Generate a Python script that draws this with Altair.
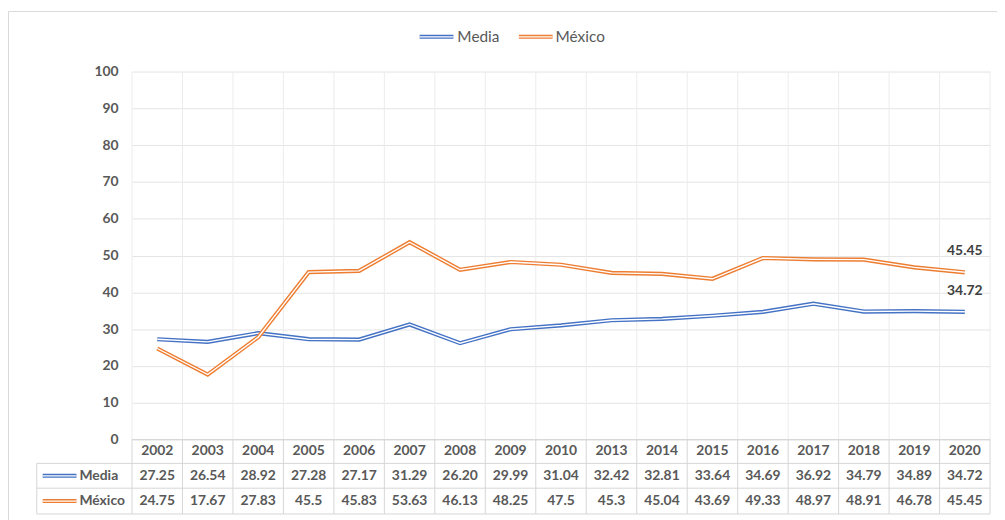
import altair as alt
import pandas as pd

years = ["2002", "2003", "2004", "2005", "2006", "2007", "2008", "2009", "2010",
         "2013", "2014", "2015", "2016", "2017", "2018", "2019", "2020"]
media = [27.25, 26.54, 28.92, 27.28, 27.17, 31.29, 26.20, 29.99, 31.04,
         32.42, 32.81, 33.64, 34.69, 36.92, 34.79, 34.89, 34.72]
mexico = [24.75, 17.67, 27.83, 45.5, 45.83, 53.63, 46.13, 48.25, 47.5,
          45.3, 45.04, 43.69, 49.33, 48.97, 48.91, 46.78, 45.45]
series_names = ["Media", "México"]
series_colors = ["#4472C4", "#ED7D31"]
y_ticks = list(range(0, 101, 10))

rows = []
for name, vals in zip(series_names, [media, mexico]):
    for yr, v in zip(years, vals):
        lab = f"{v:.2f}" if name == "Media" else f"{v:g}"
        rows.append({"year": yr, "series": name, "value": v, "label": lab})
df = pd.DataFrame(rows)
years_df = pd.DataFrame({"year": years})

FONT = "Lato"
GRAY = "#595959"
W, H = 865, 371

xscale = alt.Scale(type="band", domain=years, paddingInner=0, paddingOuter=0)
yaxis = alt.Axis(values=y_ticks, title=None, domain=False, ticks=False,
                 labelPadding=14, labelFontWeight="bold", labelFontSize=14,
                 labelColor=GRAY, labelFont=FONT, grid=True,
                 gridColor="#e4e4e4", gridWidth=1)
yscale = alt.Scale(domain=[0, 100])

def xc():
    return alt.X("year:N", scale=xscale, axis=None, bandPosition=0.5)

def xs():
    return alt.X("year:N", scale=xscale, axis=None, bandPosition=0)

one = pd.DataFrame({"k": [0]})

border = alt.Chart(one).mark_rect(fill="white", fillOpacity=0, stroke="#d9d9d9",
                                  strokeWidth=1).encode(
    x=alt.value(-124.5), x2=alt.value(900), y=alt.value(-60.5), y2=alt.value(480))

# vertical grid in plot
vgrid = alt.Chart(years_df).mark_rule(color="#ececec", strokeWidth=1).encode(
    x=xs(), y=alt.value(0), y2=alt.value(H))
vgrid_end = alt.Chart(one).mark_rule(color="#ececec", strokeWidth=1).encode(
    x=alt.value(W), y=alt.value(0), y2=alt.value(H))

# table lines
TC = "#d6d6d6"
tv = alt.Chart(years_df).mark_rule(color=TC, strokeWidth=1).encode(
    x=xs(), y=alt.value(H), y2=alt.value(446))
tv_end = alt.Chart(one).mark_rule(color=TC, strokeWidth=1).encode(
    x=alt.value(W), y=alt.value(H), y2=alt.value(446))
tv_left = alt.Chart(one).mark_rule(color=TC, strokeWidth=1).encode(
    x=alt.value(-96), y=alt.value(395), y2=alt.value(446))
th0 = alt.Chart(one).mark_rule(color=TC, strokeWidth=1).encode(
    x=alt.value(0), x2=alt.value(W), y=alt.value(H))
th_rows = [alt.Chart(one).mark_rule(color=TC, strokeWidth=1).encode(
    x=alt.value(-96), x2=alt.value(W), y=alt.value(yy)) for yy in (395, 420, 446)]

# table texts
tyears = alt.Chart(years_df).mark_text(font=FONT, fontSize=14, fontWeight="bold",
                                       color=GRAY, baseline="middle").encode(
    x=xc(), y=alt.value(383), text="year:N")
tmedia = alt.Chart(df).transform_filter(alt.datum.series == "Media").mark_text(
    font=FONT, fontSize=14, fontWeight="bold", color=GRAY, baseline="middle").encode(
    x=xc(), y=alt.value(408), text="label:N")
tmex = alt.Chart(df).transform_filter(alt.datum.series == "México").mark_text(
    font=FONT, fontSize=14, fontWeight="bold", color=GRAY, baseline="middle").encode(
    x=xc(), y=alt.value(433), text="label:N")

def double_key(x1, x2, yy, color):
    a = alt.Chart(one).mark_rule(color=color, strokeWidth=4).encode(
        x=alt.value(x1), x2=alt.value(x2), y=alt.value(yy))
    b = alt.Chart(one).mark_rule(color="white", strokeWidth=1.3).encode(
        x=alt.value(x1), x2=alt.value(x2), y=alt.value(yy))
    return [a, b]

def label(txt, xx, yy, size, weight):
    d = pd.DataFrame({"t": [txt]})
    return alt.Chart(d).mark_text(font=FONT, fontSize=size, fontWeight=weight,
                                  color=GRAY, align="left", baseline="middle").encode(
        x=alt.value(xx), y=alt.value(yy), text="t:N")

table_keys = (double_key(-90, -56, 407.5, series_colors[0]) +
              double_key(-90, -56, 433, series_colors[1]) +
              [label(series_names[0], -53, 408, 14, "bold"),
               label(series_names[1], -53, 433, 14, "bold")])

legend = (double_key(290, 324, -35, series_colors[0]) +
          double_key(390, 424, -35, series_colors[1]) +
          [label(series_names[0], 328, -35, 15.5, "normal"),
           label(series_names[1], 427, -35, 15.5, "normal")])

# series lines
series_layers = []
for name, col in zip(series_names, series_colors):
    base = alt.Chart(df).transform_filter(alt.datum.series == name)
    thick = base.mark_line(color=col, strokeWidth=4.2).encode(
        x=xc(), y=alt.Y("value:Q", scale=yscale, axis=yaxis))
    thin = base.mark_line(color="white", strokeWidth=1.4).encode(
        x=xc(), y=alt.Y("value:Q", scale=yscale, axis=yaxis))
    series_layers += [thick, thin]

end_labels = alt.Chart(df).transform_filter(alt.datum.year == years[-1]).mark_text(
    font=FONT, fontSize=14, fontWeight="bold", color="#404040", dy=-21,
    baseline="middle").encode(
    x=xc(), y=alt.Y("value:Q", scale=yscale, axis=yaxis), text="label:N")

chart = alt.layer(
    border, vgrid, vgrid_end, tv, tv_end, tv_left, th0, *th_rows,
    tyears, tmedia, tmex, *table_keys, *legend, *series_layers, end_labels
).properties(
    width=W, height=H,
    padding={"left": 125, "top": 62, "right": 7, "bottom": 79},
    autosize=alt.AutoSizeParams(type="none"),
).configure_view(stroke=None)

chart.save("out.html", embed_options={"renderer": "svg", "actions": False})
